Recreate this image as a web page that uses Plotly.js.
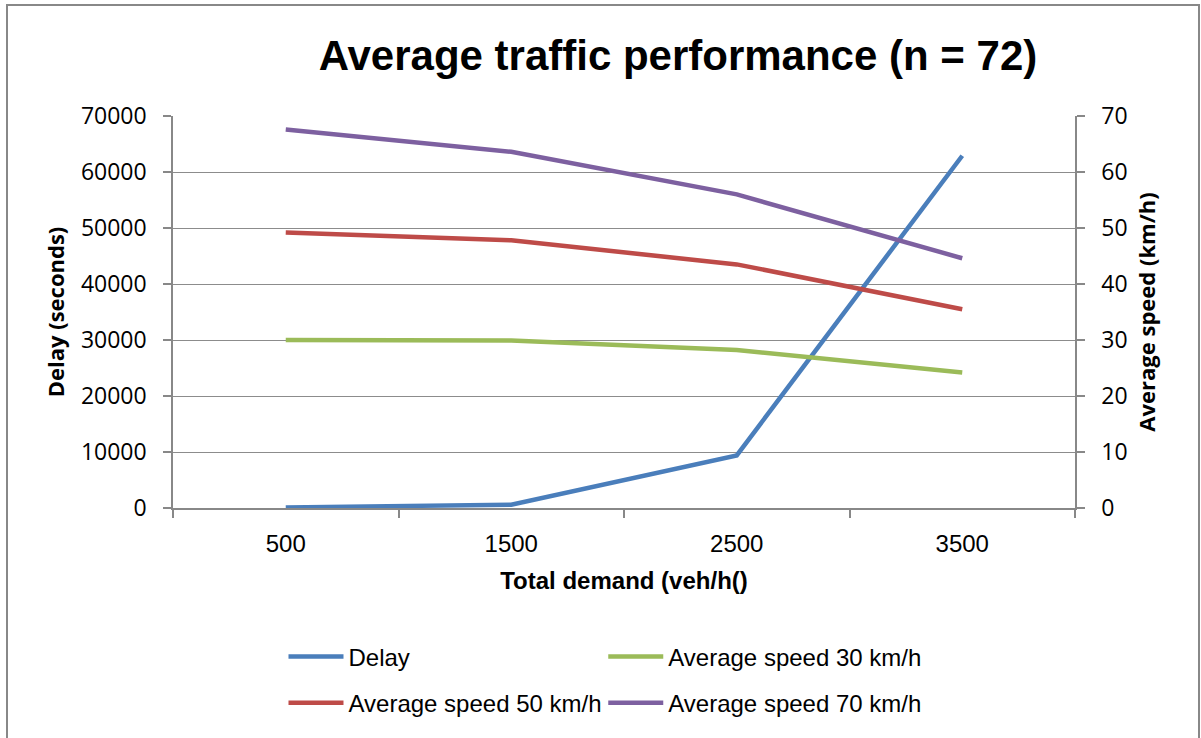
<!DOCTYPE html>
<html>
<head>
<meta charset="utf-8">
<script src="https://cdn.plot.ly/plotly-3.0.1.min.js"></script>
<style>
html,body{margin:0;padding:0;background:#fff;}
#chart{width:1201px;height:738px;}
</style>
</head>
<body>
<div id="chart"></div>
<script>
const demand = ["500", "1500", "2500", "3500"];
const delay = [100, 600, 9400, 62900];
const speed30 = [30.0, 29.9, 28.2, 24.2];
const speed50 = [49.2, 47.8, 43.5, 35.5];
const speed70 = [67.6, 63.6, 56.0, 44.6];

const arial = '"Liberation Sans", Arial, sans-serif';
const calib = '"Open Sans", "Liberation Sans", sans-serif';

const traces = [
  {x: demand, y: delay, name: "Delay", type: "scatter", mode: "lines", yaxis: "y",
   line: {color: "#4A7EBB", width: 4.5}, legend: "legend", legendgroup: "g1"},
  {x: demand, y: speed30, name: "Average speed 30 km/h", type: "scatter", mode: "lines", yaxis: "y2",
   line: {color: "#9BBB59", width: 4.5}, legend: "legend2", legendgroup: "g2"},
  {x: demand, y: speed50, name: "Average speed 50 km/h", type: "scatter", mode: "lines", yaxis: "y2",
   line: {color: "#BE4B48", width: 4.5}, legend: "legend", legendgroup: "g3"},
  {x: demand, y: speed70, name: "Average speed 70 km/h", type: "scatter", mode: "lines", yaxis: "y2",
   line: {color: "#7D60A0", width: 4.5}, legend: "legend2", legendgroup: "g4"}
];

const legendBase = {
  orientation: "v", xanchor: "left", yanchor: "middle",
  font: {family: arial, size: 24, color: "#000"},
  bgcolor: "rgba(0,0,0,0)", borderwidth: 0, itemwidth: 55,
  tracegroupgap: 12, traceorder: "grouped"
};

const layout = {
  width: 1201, height: 738,
  margin: {l: 173, r: 126, t: 116, b: 230},
  paper_bgcolor: "#fff", plot_bgcolor: "#fff",
  title: {text: "<b>Average traffic performance (n = 72)</b>", xref: "container", yref: "container",
          x: 0.5645, xanchor: "center", y: 0.925, yanchor: "middle",
          font: {family: arial, size: 42, color: "#000"}},
  xaxis: {type: "category", range: [-0.5, 3.5], tickson: "boundaries",
          ticks: "outside", ticklen: 8, tickcolor: "#888", tickwidth: 1.5,
          showline: true, linecolor: "#888", linewidth: 1.5, showgrid: false, zeroline: false,
          tickfont: {family: arial, size: 24, color: "#000"}, ticklabelstandoff: 13,
          title: {text: "<b>Total demand (veh/h()</b>", standoff: 17,
                  font: {family: arial, size: 24, color: "#000"}}},
  yaxis: {range: [0, 70000], dtick: 10000, tickformat: "d",
          ticks: "outside", ticklen: 8, tickcolor: "#888", tickwidth: 1.5,
          showline: true, linecolor: "#888", linewidth: 1.5,
          showgrid: true, gridcolor: "#8c8c8c", gridwidth: 1.3, zeroline: false,
          tickfont: {family: calib, size: 23, color: "#000"}, ticklabelstandoff: 12,
          title: {text: "<b>Delay (seconds)</b>", standoff: 10,
                  font: {family: calib, size: 22, color: "#000"}}},
  yaxis2: {range: [0, 70], dtick: 10, overlaying: "y", side: "right",
           ticks: "outside", ticklen: 8, tickcolor: "#888", tickwidth: 1.5,
           showline: true, linecolor: "#888", linewidth: 1.5,
           showgrid: false, zeroline: false,
           tickfont: {family: calib, size: 23, color: "#000"}, ticklabelstandoff: 12,
           title: {text: "<b>Average speed (km/h)</b>", standoff: 13,
                   font: {family: calib, size: 22, color: "#000"}}},
  showlegend: true,
  legend: Object.assign({}, legendBase, {x: 0.1225, y: -0.4388}),
  legend2: Object.assign({}, legendBase, {x: 0.477, y: -0.4388}),
  shapes: [
    {type: "rect", xref: "paper", yref: "paper",
     x0: (7 - 173) / 902, x1: (1199 - 173) / 902,
     y0: (508 - 760) / 392, y1: (508 - 5) / 392,
     line: {color: "#888", width: 2}, fillcolor: "rgba(0,0,0,0)", layer: "below"}
  ]
};

Plotly.newPlot("chart", traces, layout, {displayModeBar: false, responsive: false});
</script>
</body>
</html>
